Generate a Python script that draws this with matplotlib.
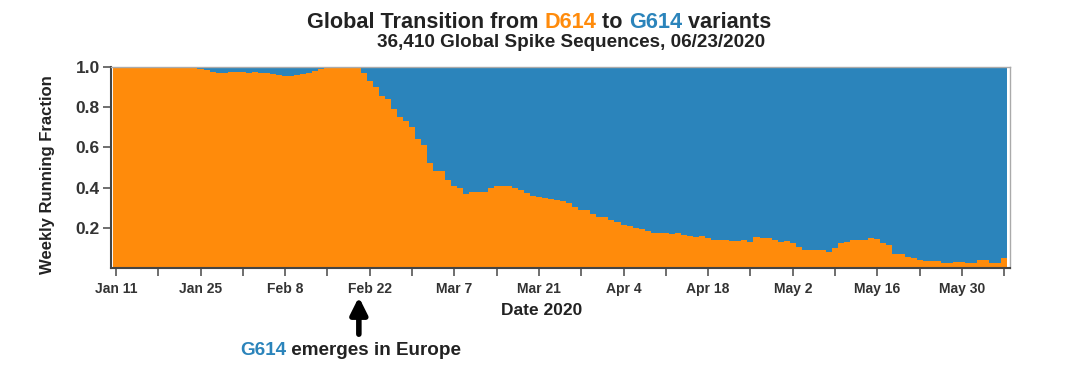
import numpy as np
import pandas as pd
import matplotlib
matplotlib.use("Agg")
from matplotlib import pyplot as plt
import matplotlib.dates as mdates

plt.rcParams["font.family"] = ["Liberation Sans", "DejaVu Sans"]
plt.rcParams["font.weight"] = "bold"
plt.rcParams["axes.labelweight"] = "bold"

ORANGE = "#FF8B0B"
BLUE = "#2B84BB"

# D614 weekly running fraction, one value per day from Jan 11, 2020
start_date = "2020-01-11"
d614_fraction = [
    1.0, 1.0, 1.0, 1.0, 1.0, 1.0, 1.0, 1.0, 1.0, 1.0, 1.0, 1.0, 1.0,
    0.995, 0.99, 0.985, 0.975, 0.97, 0.97, 0.975, 0.975, 0.975, 0.97, 0.975,
    0.97, 0.97, 0.965, 0.96, 0.955, 0.955, 0.96, 0.965, 0.97, 0.98, 0.99,
    1.0, 1.0, 1.0, 1.0, 1.0, 1.0,
    0.97, 0.93, 0.90, 0.855, 0.84, 0.79, 0.75, 0.73, 0.70, 0.64,
    0.61, 0.52, 0.48, 0.48, 0.44, 0.41, 0.40, 0.37, 0.38, 0.38,
    0.38, 0.40, 0.41, 0.41, 0.41, 0.40, 0.39, 0.375, 0.36, 0.355,
    0.35, 0.345, 0.34, 0.335, 0.325, 0.305, 0.29, 0.29, 0.27, 0.255,
    0.255, 0.24, 0.23, 0.215, 0.21, 0.20, 0.195, 0.185, 0.175, 0.172,
    0.172, 0.17, 0.175, 0.163, 0.16, 0.155, 0.157, 0.147, 0.14, 0.138,
    0.137, 0.135, 0.136, 0.138, 0.13, 0.155, 0.15, 0.147, 0.14, 0.13,
    0.132, 0.125, 0.105, 0.088, 0.088, 0.088, 0.088, 0.08, 0.097, 0.122,
    0.13, 0.138, 0.14, 0.14, 0.147, 0.145, 0.125, 0.113, 0.067, 0.067,
    0.055, 0.05, 0.038, 0.033, 0.033, 0.036, 0.025, 0.025, 0.03, 0.03,
    0.025, 0.025, 0.038, 0.038, 0.025, 0.025, 0.047,
]

tick_dates = ["2020-01-11", "2020-01-25", "2020-02-08", "2020-02-22", "2020-03-07",
              "2020-03-21", "2020-04-04", "2020-04-18", "2020-05-02", "2020-05-16",
              "2020-05-30"]
tick_labels = ["Jan 11", "Jan 25", "Feb 8", "Feb 22", "Mar 7", "Mar 21", "Apr 4",
               "Apr 18", "May 2", "May 16", "May 30"]
minor_dates = ["2020-01-18", "2020-02-01", "2020-02-15", "2020-02-29", "2020-03-14",
               "2020-03-28", "2020-04-11", "2020-04-25", "2020-05-09", "2020-05-23",
               "2020-06-06"]
y_ticks = [0.2, 0.4, 0.6, 0.8, 1.0]

d614 = np.array(d614_fraction)
days = mdates.date2num(pd.date_range(start_date, periods=len(d614)))
edges = np.append(days - 0.5, days[-1] + 0.5)

fig = plt.figure(figsize=(10.68, 3.66), dpi=100)
ax = fig.add_axes([0.104, 0.268, 0.842, 0.549])

ax.stairs(d614, edges, baseline=0, fill=True, color=ORANGE, lw=0)
ax.stairs(np.ones_like(d614), edges, baseline=d614, fill=True, color=BLUE, lw=0)

ax.set_xlim(days[0] - 0.8, days[0] + 148.0)
ax.set_ylim(0, 1.0)

ax.set_xticks(mdates.date2num(pd.to_datetime(tick_dates)))
ax.set_xticklabels(tick_labels, fontsize=10, color="#333333")
ax.set_xticks(mdates.date2num(pd.to_datetime(minor_dates)), minor=True)
ax.set_yticks(y_ticks)
ax.set_yticklabels([f"{v:.1f}" for v in y_ticks], fontsize=12.5, color="#333333")
ax.tick_params(axis="both", which="both", direction="out", color="#555555", width=1.2)
ax.tick_params(axis="x", which="both", length=6, pad=4)
ax.tick_params(axis="y", length=6, pad=2)

for side in ["left", "bottom"]:
    ax.spines[side].set_color("#444444")
    ax.spines[side].set_linewidth(1.5)
for side in ["top", "right"]:
    ax.spines[side].set_color("#aaaaaa")
    ax.spines[side].set_linewidth(1.0)

ax.set_ylabel("Weekly Running Fraction", fontsize=12, color="#222222")
ax.yaxis.set_label_coords(-0.062, 0.463)
ax.set_xlabel("Date 2020", fontsize=12.5, color="#222222")
ax.xaxis.set_label_coords(0.479, -0.175)

# Two-coloured title built from chained text pieces
pieces = [("Global Transition from ", "#222222"), ("D614", ORANGE), (" to ", "#222222"),
          ("G614", BLUE), (" variants", "#222222")]
prev = fig.text(307 / 1068, 1 - 28 / 366, pieces[0][0], color=pieces[0][1],
                fontsize=15.6, ha="left", va="baseline")
for txt, col in pieces[1:]:
    prev = ax.annotate(txt, xy=(1, 0), xycoords=prev, va="bottom", ha="left",
                       color=col, fontsize=15.6, annotation_clip=False)

fig.text(377 / 1068, 1 - 47 / 366, "36,410 Global Spike Sequences, 06/23/2020",
         fontsize=13.6, color="#222222", ha="left", va="baseline")

# Arrow marking emergence of G614 in Europe
arrow_x = mdates.date2num(pd.Timestamp("2020-02-22")) - 1.8
ax.annotate("", xy=(arrow_x, -0.145), xytext=(arrow_x, -0.33), xycoords="data",
            arrowprops=dict(arrowstyle="-|>,head_width=0.5,head_length=1.0",
                            color="black", lw=4, shrinkA=0, shrinkB=0),
            annotation_clip=False)

t1 = fig.text(240 / 1068, 1 - 355 / 366, "G614", color=BLUE, fontsize=13.6,
              ha="left", va="baseline")
ax.annotate(" emerges in Europe", xy=(1, 0), xycoords=t1, va="bottom", ha="left",
            color="#222222", fontsize=13.6, annotation_clip=False)

fig.savefig("out.png", dpi=100)
